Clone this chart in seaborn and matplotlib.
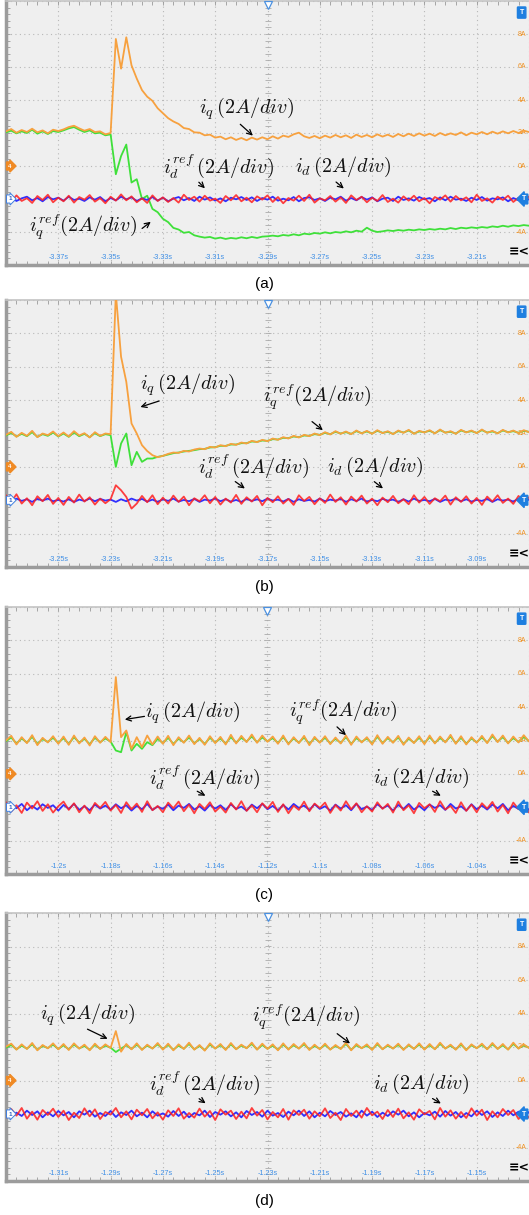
import numpy as np
import matplotlib
matplotlib.use("Agg")
import matplotlib.pyplot as plt
import seaborn as sns
from matplotlib.ticker import AutoMinorLocator

# scope settings: 0.02 s/div, 10 div wide, 2 A/div, 8 div high
DIV = 0.02
centres = [-3.29, -3.17, -1.12, -1.23]
panel_names = ['(a)', '(b)', '(c)', '(d)']

ticks_a = ['-3.37s', '-3.35s', '-3.33s', '-3.31s', '-3.29s', '-3.27s', '-3.25s', '-3.23s', '-3.21s']
ticks_b = ['-3.25s', '-3.23s', '-3.21s', '-3.19s', '-3.17s', '-3.15s', '-3.13s', '-3.11s', '-3.09s']
ticks_c = ['-1.2s', '-1.18s', '-1.16s', '-1.14s', '-1.12s', '-1.1s', '-1.08s', '-1.06s', '-1.04s']
ticks_d = ['-1.31s', '-1.29s', '-1.27s', '-1.25s', '-1.23s', '-1.21s', '-1.19s', '-1.17s', '-1.15s']

amp_values = [8, 6, 4, 2, 0, -4]
amp_labels = ['8A', '6A', '4A', '2A', '0A', '-4A']

# channel 4 (iq, iq_ref) in A, sampled every 0.1 div
iq_a = [2.10, 2.24, 2.02, 2.18, 2.06, 2.26, 2.04, 2.16, 1.98, 2.20, 2.12,
        2.22, 2.36, 2.44, 2.28, 2.14, 2.24, 2.06, 2.10, 1.92, 2.00,
        7.70, 5.90, 7.80, 6.10, 5.30, 4.60, 4.20, 3.95, 3.50, 3.20,
        2.90, 2.70, 2.55, 2.30, 2.24, 2.04, 2.02, 1.86, 1.90, 1.72,
        1.78, 1.62, 1.74, 1.58, 1.70, 1.56, 1.72, 1.60, 1.74, 1.62,
        1.80, 1.66, 1.84, 1.76, 1.92, 2.02, 1.80, 1.70, 1.82, 1.68,
        1.84, 1.72, 1.88, 1.74, 1.86, 1.70, 1.90, 1.76, 1.88, 1.74,
        1.92, 1.78, 1.90, 1.76, 1.94, 1.80, 1.96, 1.82, 1.98, 1.84,
        1.96, 1.82, 2.00, 1.86, 1.98, 1.88, 2.04, 1.86, 2.02, 1.92,
        2.06, 1.92, 2.08, 1.96, 2.10, 1.98, 2.12, 2.00, 2.14, 2.06]
iq_ref_a = [2.04, 2.14, 1.98, 2.10, 2.00, 2.20, 1.96, 2.10, 1.94, 2.12, 2.06,
            2.16, 2.28, 2.36, 2.20, 2.06, 2.16, 1.98, 2.02, 1.86, 1.92,
            -0.50, 0.60, 1.30, -1.00, -0.80, -2.00, -1.80, -2.60, -2.80, -3.20,
            -3.40, -3.75, -3.85, -4.05, -4.00, -4.20, -4.28, -4.34, -4.30, -4.40,
            -4.34, -4.42, -4.36, -4.40, -4.32, -4.38, -4.30, -4.36, -4.28, -4.26,
            -4.22, -4.26, -4.18, -4.22, -4.14, -4.20, -4.10, -4.14, -4.06, -4.10,
            -4.02, -4.08, -4.00, -4.04, -3.96, -4.02, -3.92, -3.98, -3.74, -3.92,
            -4.00, -3.96, -3.90, -3.94, -3.88, -3.92, -3.86, -3.90, -3.84, -3.88,
            -3.82, -3.86, -3.80, -3.84, -3.76, -3.82, -3.74, -3.78, -3.72, -3.76,
            -3.70, -3.74, -3.66, -3.70, -3.62, -3.68, -3.60, -3.64, -3.58, -3.62]
iq_b = [1.92, 2.10, 1.80, 2.04, 1.86, 2.16, 1.78, 2.00, 1.90, 2.12, 1.84,
        2.06, 1.82, 2.14, 1.88, 2.02, 1.76, 2.08, 1.86, 2.00, 1.96,
        10.40, 6.60, 5.10, 2.60, 2.00, 1.30, 0.95, 0.70, 0.58, 0.66,
        0.78, 0.86, 0.84, 0.96, 0.92, 1.04, 1.10, 1.06, 1.20, 1.16,
        1.30, 1.24, 1.38, 1.32, 1.46, 1.40, 1.56, 1.48, 1.62, 1.54,
        1.70, 1.62, 1.78, 1.70, 1.86, 1.76, 1.92, 1.84, 2.00, 1.90,
        2.08, 1.94, 2.14, 1.98, 2.12, 1.96, 2.18, 2.00, 2.16, 1.98,
        2.20, 2.02, 2.14, 1.96, 2.18, 2.04, 2.22, 1.98, 2.16, 2.06,
        2.20, 2.00, 2.24, 2.04, 2.14, 1.98, 2.22, 2.06, 2.18, 2.02,
        2.24, 2.04, 2.16, 2.00, 2.22, 2.06, 2.18, 2.02, 2.20, 2.08]
iq_ref_b = [1.88, 2.04, 1.82, 1.98, 1.84, 2.08, 1.80, 1.96, 1.86, 2.06, 1.82,
            2.00, 1.80, 2.06, 1.84, 1.98, 1.78, 2.02, 1.84, 1.96, 1.90,
            0.00, 1.40, 2.00, 0.10, 0.90, 0.30, 0.50, 0.50, 0.60, 0.66,
            0.74, 0.82, 0.86, 0.92, 0.96, 1.00, 1.06, 1.08, 1.16, 1.18,
            1.26, 1.26, 1.34, 1.34, 1.42, 1.42, 1.52, 1.50, 1.58, 1.56,
            1.66, 1.64, 1.74, 1.72, 1.82, 1.78, 1.88, 1.86, 1.96, 1.92,
            2.04, 1.96, 2.10, 2.00, 2.08, 1.98, 2.14, 2.02, 2.12, 2.00,
            2.16, 2.04, 2.10, 1.98, 2.14, 2.06, 2.18, 2.00, 2.12, 2.08,
            2.16, 2.02, 2.20, 2.06, 2.10, 2.00, 2.18, 2.08, 2.14, 2.04,
            2.20, 2.06, 2.12, 2.02, 2.18, 2.08, 2.14, 2.04, 2.16, 2.10]
iq_c = [2.00, 2.28, 1.76, 2.20, 1.84, 2.32, 1.72, 2.16, 1.88, 2.26, 1.80,
        2.24, 1.74, 2.30, 1.82, 2.18, 1.70, 2.26, 1.86, 2.22, 1.90,
        5.80, 2.20, 2.60, 1.50, 2.20, 1.60, 2.30, 1.76, 2.24, 1.80,
        2.28, 1.72, 2.20, 1.86, 2.30, 1.78, 2.16, 1.74, 2.26, 1.84,
        2.22, 1.76, 2.34, 1.82, 2.28, 1.90, 2.36, 1.86, 2.30, 1.92,
        2.24, 1.80, 2.30, 1.76, 2.20, 1.84, 2.28, 1.72, 2.22, 1.86,
        2.26, 1.78, 2.18, 1.82, 2.30, 1.74, 2.24, 1.88, 2.20, 1.76,
        2.32, 1.80, 2.22, 1.86, 2.28, 1.74, 2.18, 1.84, 2.26, 1.78,
        2.30, 1.82, 2.24, 1.88, 2.34, 1.80, 2.26, 1.76, 2.20, 1.86,
        2.28, 1.84, 2.36, 1.90, 2.30, 1.82, 2.24, 1.88, 2.32, 1.94]
iq_ref_c = [1.96, 2.18, 1.82, 2.12, 1.88, 2.22, 1.80, 2.08, 1.92, 2.16, 1.86,
            2.14, 1.80, 2.20, 1.88, 2.10, 1.78, 2.16, 1.90, 2.12, 1.94,
            1.40, 1.30, 2.50, 1.40, 1.80, 1.50, 1.90, 1.72, 2.10, 1.84,
            2.16, 1.80, 2.10, 1.90, 2.18, 1.84, 2.08, 1.80, 2.16, 1.88,
            2.12, 1.82, 2.20, 1.88, 2.16, 1.94, 2.24, 1.90, 2.18, 1.96,
            2.14, 1.86, 2.20, 1.82, 2.12, 1.88, 2.18, 1.80, 2.14, 1.90,
            2.16, 1.84, 2.10, 1.86, 2.20, 1.80, 2.14, 1.92, 2.12, 1.82,
            2.22, 1.86, 2.14, 1.90, 2.18, 1.80, 2.10, 1.88, 2.16, 1.84,
            2.20, 1.86, 2.14, 1.92, 2.24, 1.84, 2.16, 1.82, 2.12, 1.90,
            2.18, 1.88, 2.26, 1.94, 2.20, 1.86, 2.14, 1.92, 2.22, 1.96]
iq_d = [2.02, 2.20, 1.84, 2.16, 1.88, 2.24, 1.80, 2.12, 1.92, 2.22, 1.86,
        2.18, 1.82, 2.22, 1.90, 2.14, 1.80, 2.20, 1.88, 2.16, 1.94,
        2.95, 1.72, 2.18, 1.86, 2.22, 1.82, 2.14, 1.90, 2.24, 1.84,
        2.20, 1.80, 2.16, 1.88, 2.26, 1.84, 2.12, 1.78, 2.22, 1.90,
        2.18, 1.82, 2.24, 1.86, 2.14, 1.92, 2.26, 1.84, 2.20, 1.88,
        2.16, 1.80, 2.22, 1.84, 2.18, 1.90, 2.24, 1.82, 2.14, 1.86,
        2.20, 1.84, 2.12, 1.88, 2.26, 1.80, 2.18, 1.92, 2.16, 1.82,
        2.24, 1.86, 2.14, 1.90, 2.20, 1.82, 2.16, 1.88, 2.22, 1.84,
        2.18, 1.86, 2.26, 1.90, 2.14, 1.84, 2.22, 1.80, 2.16, 1.92,
        2.20, 1.86, 2.24, 1.88, 2.18, 1.84, 2.26, 1.90, 2.16, 1.94]
iq_ref_d = [1.96, 2.12, 1.86, 2.08, 1.90, 2.16, 1.84, 2.06, 1.94, 2.14, 1.88,
            2.10, 1.86, 2.14, 1.92, 2.06, 1.84, 2.12, 1.90, 2.08, 1.96,
            1.70, 1.90, 2.10, 1.88, 2.14, 1.86, 2.08, 1.92, 2.16, 1.88,
            2.12, 1.84, 2.08, 1.90, 2.18, 1.86, 2.06, 1.82, 2.14, 1.92,
            2.10, 1.86, 2.16, 1.88, 2.08, 1.94, 2.18, 1.86, 2.12, 1.90,
            2.08, 1.84, 2.14, 1.88, 2.10, 1.92, 2.16, 1.86, 2.06, 1.90,
            2.12, 1.86, 2.06, 1.90, 2.18, 1.84, 2.10, 1.94, 2.08, 1.86,
            2.16, 1.88, 2.08, 1.92, 2.12, 1.86, 2.10, 1.90, 2.14, 1.88,
            2.10, 1.88, 2.18, 1.92, 2.08, 1.86, 2.14, 1.84, 2.10, 1.94,
            2.12, 1.88, 2.16, 1.90, 2.10, 1.86, 2.18, 1.92, 2.10, 1.96]

# channel 1 (id, id_ref) in A around its own ground marker
id_a = [0.10, -0.18, 0.22, -0.12, 0.05, -0.24, 0.18, -0.06, 0.26, -0.20, 0.08,
        -0.14, 0.20, -0.22, 0.12, -0.04, 0.24, -0.16, 0.06, -0.26, 0.14,
        -0.10, 0.28, -0.08, 0.16, -0.20, 0.04, -0.24, 0.22, -0.12, 0.10,
        -0.18, 0.06, -0.22, 0.26, -0.06, 0.14, -0.16, 0.20, -0.10, 0.02,
        -0.24, 0.18, -0.08, 0.24, -0.14, 0.08, -0.20, 0.16, -0.04, 0.22,
        -0.18, 0.12, -0.26, 0.06, -0.10, 0.20, -0.12, 0.26, -0.22, 0.04,
        -0.08, 0.18, -0.16, 0.10, -0.24, 0.22, -0.06, 0.14, -0.20, 0.08,
        -0.12, 0.24, -0.18, 0.02, -0.22, 0.16, -0.10, 0.20, -0.14, 0.06,
        -0.26, 0.12, -0.04, 0.22, -0.16, 0.18, -0.08, 0.10, -0.20, 0.26,
        -0.12, 0.04, -0.22, 0.14, -0.06, 0.20, -0.18, 0.08, -0.24, 0.16]
id_ref_a = [-0.06, 0.10, -0.12, 0.04, 0.14, -0.08, 0.06, -0.14, 0.12, -0.02, 0.08,
            -0.10, 0.14, -0.06, 0.02, -0.12, 0.10, -0.04, 0.12, -0.14, 0.06,
            -0.08, 0.14, -0.02, 0.10, -0.12, 0.04, -0.06, 0.12, -0.10, 0.08,
            -0.14, 0.02, 0.12, -0.08, 0.06, -0.12, 0.14, -0.04, 0.10, -0.10,
            0.04, -0.14, 0.08, -0.02, 0.12, -0.06, 0.10, -0.12, 0.06, -0.04,
            0.14, -0.10, 0.02, -0.08, 0.12, -0.14, 0.06, 0.10, -0.06, 0.04,
            -0.12, 0.08, -0.02, 0.14, -0.10, 0.06, -0.08, 0.12, -0.04, 0.10,
            -0.14, 0.02, 0.08, -0.12, 0.14, -0.06, 0.04, -0.10, 0.12, -0.02,
            0.06, -0.14, 0.10, -0.08, 0.14, -0.04, 0.02, -0.12, 0.08, -0.06,
            0.12, -0.10, 0.04, -0.02, 0.10, -0.14, 0.06, -0.08, 0.12, -0.04]
id_b = [0.30, -0.10, 0.36, -0.20, 0.12, -0.30, 0.24, -0.06, 0.32, -0.22, 0.14,
        -0.28, 0.20, -0.14, 0.34, -0.08, 0.18, -0.26, 0.10, -0.18, 0.06,
        0.90, 0.60, 0.20, -0.50, -0.20, 0.26, -0.12, 0.30, -0.24, 0.16,
        -0.20, 0.28, -0.10, 0.22, -0.30, 0.12, -0.06, 0.30, -0.18, 0.20,
        -0.26, 0.10, -0.14, 0.32, -0.22, 0.18, -0.08, 0.26, -0.30, 0.14,
        -0.12, 0.24, -0.20, 0.08, -0.28, 0.30, -0.04, 0.20, -0.24, 0.12,
        -0.16, 0.34, -0.10, 0.18, -0.26, 0.22, -0.08, 0.28, -0.20, 0.10,
        -0.30, 0.16, -0.12, 0.26, -0.18, 0.06, -0.24, 0.30, -0.14, 0.20,
        -0.22, 0.12, -0.06, 0.28, -0.26, 0.18, -0.10, 0.24, -0.20, 0.14,
        -0.28, 0.22, -0.08, 0.30, -0.16, 0.10, -0.22, 0.26, -0.12, 0.18]
id_ref_b = [0.04, -0.08, 0.10, -0.04, 0.06, -0.10, 0.08, -0.02, 0.10, -0.06, 0.02,
            -0.08, 0.06, -0.10, 0.04, -0.04, 0.10, -0.06, 0.08, -0.02, 0.04,
            -0.10, 0.06, -0.06, 0.10, -0.02, 0.08, -0.08, 0.04, -0.10, 0.06,
            -0.04, 0.10, -0.08, 0.02, -0.06, 0.08, -0.10, 0.04, -0.02, 0.10,
            -0.06, 0.06, -0.08, 0.02, -0.10, 0.08, -0.04, 0.06, -0.06, 0.10,
            -0.02, 0.04, -0.08, 0.08, -0.10, 0.06, -0.04, 0.02, -0.08, 0.10,
            -0.06, 0.04, -0.02, 0.08, -0.10, 0.06, -0.04, 0.10, -0.08, 0.02,
            -0.06, 0.08, -0.02, 0.04, -0.10, 0.06, -0.08, 0.10, -0.04, 0.02,
            -0.06, 0.08, -0.10, 0.04, -0.02, 0.10, -0.06, 0.06, -0.08, 0.02,
            -0.04, 0.08, -0.10, 0.06, -0.02, 0.04, -0.08, 0.10, -0.06, 0.04]
id_c = [0.30, -0.26, 0.12, -0.34, 0.28, -0.08, 0.36, -0.22, 0.18, -0.32, 0.06,
        0.34, -0.16, 0.24, -0.30, 0.10, -0.36, 0.26, -0.04, 0.32, -0.20,
        0.14, -0.34, 0.30, -0.12, 0.22, -0.28, 0.36, -0.18, 0.08, -0.30,
        0.28, -0.06, 0.34, -0.24, 0.16, -0.36, 0.20, -0.10, 0.30, -0.26,
        0.04, -0.32, 0.26, -0.14, 0.36, -0.22, 0.12, -0.30, 0.24, -0.08,
        0.32, -0.28, 0.18, -0.36, 0.10, -0.16, 0.34, -0.24, 0.22, -0.04,
        0.28, -0.34, 0.14, -0.20, 0.36, -0.12, 0.24, -0.30, 0.06, -0.26,
        0.30, -0.10, 0.20, -0.32, 0.34, -0.18, 0.12, -0.36, 0.26, -0.06,
        0.18, -0.28, 0.36, -0.14, 0.08, -0.34, 0.30, -0.22, 0.16, -0.30,
        0.24, -0.08, 0.32, -0.26, 0.14, -0.36, 0.28, -0.12, 0.20, -0.32]
id_ref_c = [-0.12, 0.16, -0.06, 0.20, -0.18, 0.08, -0.14, 0.18, -0.04, 0.12, -0.20,
            0.14, -0.10, 0.20, -0.16, 0.06, -0.18, 0.16, -0.08, 0.10, -0.14,
            0.18, -0.06, 0.12, -0.20, 0.08, -0.12, 0.20, -0.16, 0.04, -0.10,
            0.16, -0.18, 0.10, -0.04, 0.20, -0.14, 0.06, -0.20, 0.14, -0.08,
            0.12, -0.16, 0.18, -0.10, 0.04, -0.20, 0.16, -0.06, 0.20, -0.12,
            0.08, -0.18, 0.14, -0.14, 0.20, -0.04, 0.10, -0.16, 0.18, -0.10,
            0.06, -0.20, 0.16, -0.08, 0.12, -0.18, 0.20, -0.12, 0.04, -0.16,
            0.18, -0.06, 0.10, -0.20, 0.14, -0.10, 0.20, -0.14, 0.08, -0.18,
            0.16, -0.04, 0.12, -0.16, 0.20, -0.08, 0.06, -0.20, 0.18, -0.12,
            0.10, -0.14, 0.16, -0.06, 0.20, -0.18, 0.08, -0.10, 0.14, -0.16]
id_d = [-0.22, 0.30, -0.10, 0.36, -0.28, 0.14, -0.34, 0.24, -0.06, 0.32, -0.18,
        0.20, -0.36, 0.08, -0.24, 0.34, -0.14, 0.28, -0.30, 0.12, -0.04,
        0.36, -0.20, 0.16, -0.32, 0.26, -0.08, 0.30, -0.26, 0.10, -0.34,
        0.22, -0.12, 0.34, -0.28, 0.06, -0.22, 0.32, -0.16, 0.18, -0.36,
        0.28, -0.04, 0.20, -0.30, 0.14, -0.26, 0.36, -0.10, 0.24, -0.32,
        0.12, -0.20, 0.30, -0.34, 0.22, -0.06, 0.26, -0.28, 0.16, -0.14,
        0.34, -0.24, 0.08, -0.36, 0.30, -0.12, 0.20, -0.22, 0.36, -0.08,
        0.14, -0.30, 0.24, -0.18, 0.32, -0.26, 0.10, -0.34, 0.28, -0.02,
        0.18, -0.32, 0.36, -0.16, 0.22, -0.28, 0.12, -0.24, 0.34, -0.10,
        0.26, -0.36, 0.16, -0.20, 0.30, -0.06, 0.24, -0.30, 0.10, -0.22]
id_ref_d = [0.14, -0.18, 0.08, -0.12, 0.20, -0.06, 0.16, -0.20, 0.10, -0.14, 0.18,
            -0.08, 0.12, -0.20, 0.16, -0.04, 0.20, -0.16, 0.06, -0.12, 0.18,
            -0.18, 0.10, -0.06, 0.20, -0.14, 0.08, -0.20, 0.16, -0.10, 0.04,
            -0.16, 0.18, -0.12, 0.14, -0.20, 0.06, -0.08, 0.20, -0.18, 0.12,
            -0.04, 0.16, -0.14, 0.10, -0.20, 0.18, -0.06, 0.12, -0.16, 0.20,
            -0.10, 0.06, -0.18, 0.14, -0.08, 0.20, -0.12, 0.16, -0.20, 0.08,
            -0.14, 0.18, -0.06, 0.12, -0.16, 0.04, -0.20, 0.20, -0.10, 0.14,
            -0.18, 0.08, -0.12, 0.16, -0.04, 0.20, -0.14, 0.10, -0.20, 0.06,
            -0.08, 0.14, -0.16, 0.18, -0.10, 0.12, -0.20, 0.06, -0.14, 0.20,
            -0.06, 0.16, -0.18, 0.10, -0.12, 0.20, -0.08, 0.14, -0.16, 0.12]

CH1_ZERO = -2.0   # channel 1 ground sits one division below channel 4 ground

IQ = r'$i_q\,(2A/div)$'
IQREF = r'$i_q^{ref}(2A/div)$'
IDREF = r'$i_d^{ref}\,(2A/div)$'
ID = r'$i_d\,(2A/div)$'

# (label, text centre, arrow tail, arrow head) in axes fractions
notes_a = [(IQ, (0.461, 0.592), (0.444, 0.540), (0.476, 0.483)),
           (IDREF, (0.407, 0.370), (0.365, 0.321), (0.384, 0.283)),
           (ID, (0.644, 0.370), (0.627, 0.321), (0.650, 0.283)),
           (IQREF, (0.147, 0.143), (0.256, 0.132), (0.281, 0.170))]
notes_b = [(IQ, (0.348, 0.682), (0.298, 0.625), (0.252, 0.596)),
           (IQREF, (0.595, 0.637), (0.581, 0.551), (0.610, 0.506)),
           (IDREF, (0.474, 0.375), (0.434, 0.326), (0.461, 0.288)),
           (ID, (0.706, 0.375), (0.700, 0.326), (0.725, 0.288))]
notes_c = [(IQ, (0.358, 0.603), (0.270, 0.592), (0.222, 0.577)),
           (IQREF, (0.644, 0.607), (0.629, 0.558), (0.654, 0.513)),
           (IDREF, (0.379, 0.360), (0.361, 0.315), (0.386, 0.288)),
           (ID, (0.795, 0.360), (0.811, 0.315), (0.836, 0.288))]
notes_d = [(IQ, (0.157, 0.619), (0.151, 0.571), (0.199, 0.526)),
           (IQREF, (0.574, 0.612), (0.629, 0.556), (0.662, 0.507)),
           (IDREF, (0.379, 0.362), (0.365, 0.313), (0.386, 0.284)),
           (ID, (0.795, 0.362), (0.811, 0.313), (0.836, 0.284))]

ORANGE = '#f7a13f'
GREEN = '#3fe03a'
RED = '#ff1f1f'
BLUE = '#2f2fff'
TICK_BLUE = '#3f8fe6'
GRID = '#b8b8b8'


def draw_panel(ax, centre, ticks, iq, iq_ref, i_d, i_d_ref, notes):
    left, right = centre - 5 * DIV, centre + 5 * DIV
    ax.set_facecolor('#efefef')
    ax.set_xlim(left, right)
    ax.set_ylim(-6, 10)

    ax.set_xticks(centre + DIV * np.arange(-5, 6))
    ax.set_yticks(np.arange(-6, 11, 2))
    ax.xaxis.set_minor_locator(AutoMinorLocator(5))
    ax.yaxis.set_minor_locator(AutoMinorLocator(5))
    ax.tick_params(which='both', direction='in', length=3, width=0.6, color='#999999',
                   top=True, bottom=True, left=True, right=False,
                   labelbottom=False, labelleft=False)
    ax.grid(True, which='major', color=GRID, linestyle=(0, (1, 3)), linewidth=0.8)
    for side in ['left', 'bottom']:
        ax.spines[side].set_color('#9c9c9c')
        ax.spines[side].set_linewidth(2.5)
    ax.spines['top'].set_color('#c4c4c4')
    ax.spines['top'].set_linewidth(1.2)
    ax.spines['right'].set_visible(False)

    # tick marks along the vertical centre line
    ys = np.arange(-6, 10.01, 0.4)
    ax.plot(np.full(len(ys), centre), ys, ls='', marker='_', ms=4, mew=0.6,
            color='#aaaaaa', zorder=1)

    # amplitude labels on the right
    for v, lab in zip(amp_values, amp_labels):
        ax.text(0.995, v, lab, transform=ax.get_yaxis_transform(), ha='right', va='center',
                fontsize=5, color='#f0901e', zorder=1)
    # time labels
    for k, lab in enumerate(ticks, start=1):
        ax.text(left + k * DIV, -5.55, lab, ha='center', va='center', fontsize=5.2,
                color=TICK_BLUE, zorder=1)

    # traces
    t = np.linspace(left, right, len(iq))
    sns.lineplot(x=t, y=iq_ref, ax=ax, color=GREEN, lw=1.3, estimator=None, sort=False, zorder=3)
    sns.lineplot(x=t, y=iq, ax=ax, color=ORANGE, lw=1.3, estimator=None, sort=False, zorder=4)
    t1 = np.linspace(left, right, len(i_d))
    sns.lineplot(x=t1, y=np.array(i_d_ref) + CH1_ZERO, ax=ax, color=BLUE, lw=1.3,
                 estimator=None, sort=False, zorder=3)
    sns.lineplot(x=t1, y=np.array(i_d) + CH1_ZERO, ax=ax, color=RED, lw=1.3, alpha=0.85,
                 estimator=None, sort=False, zorder=4)
    ax.set_xlabel('')
    ax.set_ylabel('')

    # channel / trigger markers
    yt = ax.get_yaxis_transform()
    ax.text(0.004, 0, '4', transform=yt, ha='left', va='center', fontsize=4.5, color='white',
            fontweight='bold', zorder=6,
            bbox=dict(boxstyle='rarrow,pad=0.25', fc='#f08a24', ec='#f08a24'))
    ax.text(0.004, CH1_ZERO, '1', transform=yt, ha='left', va='center', fontsize=4.5,
            color='#2a5fc0', fontweight='bold', zorder=6,
            bbox=dict(boxstyle='rarrow,pad=0.25', fc='white', ec='#3f7fe0', lw=0.7))
    ax.text(0.99, 9.3, 'T', transform=yt, ha='right', va='center', fontsize=5, color='white',
            fontweight='bold', zorder=6,
            bbox=dict(boxstyle='round,pad=0.3,rounding_size=0.1', fc='#1e7fe0', ec='#1e7fe0'))
    ax.text(0.995, CH1_ZERO, 'T', transform=yt, ha='right', va='center', fontsize=5,
            color='white', fontweight='bold', zorder=6,
            bbox=dict(boxstyle='larrow,pad=0.2', fc='#1e7fe0', ec='#1e7fe0'))
    ax.plot([centre], [9.75], marker='v', ms=6, mfc='white', mec='#4a90e0', mew=0.9,
            clip_on=False, zorder=6)
    ax.text(0.981, 0.049, '≡<', transform=ax.transAxes, ha='center', va='center',
            fontsize=9, color='black', fontweight='bold', family='DejaVu Sans', zorder=6)

    # annotations
    for label, pos, tail, head in notes:
        ax.text(pos[0], pos[1], label, transform=ax.transAxes, ha='center', va='center',
                fontsize=14.5, color='#111111', zorder=7)
        ax.annotate('', xy=head, xytext=tail, xycoords='axes fraction',
                    textcoords='axes fraction', zorder=7,
                    arrowprops=dict(arrowstyle='->', color='black', lw=0.9, mutation_scale=9))


sns.set_theme(style='white')
plt.rcParams['mathtext.fontset'] = 'cm'
plt.rcParams['font.family'] = ['Liberation Sans', 'DejaVu Sans']

W, H = 529, 1215
fig = plt.figure(figsize=(W / 100, H / 100), dpi=100)
fig.patch.set_facecolor('white')

panel_px = [(1, 265), (300, 567), (607, 874), (913, 1181)]
label_px = [284, 587, 895, 1201]
all_ticks = [ticks_a, ticks_b, ticks_c, ticks_d]
all_iq = [iq_a, iq_b, iq_c, iq_d]
all_iq_ref = [iq_ref_a, iq_ref_b, iq_ref_c, iq_ref_d]
all_id = [id_a, id_b, id_c, id_d]
all_id_ref = [id_ref_a, id_ref_b, id_ref_c, id_ref_d]
all_notes = [notes_a, notes_b, notes_c, notes_d]

for i in range(4):
    top, bottom = panel_px[i]
    ax = fig.add_axes([6 / W, 1 - bottom / H, 523 / W, (bottom - top) / H])
    draw_panel(ax, centres[i], all_ticks[i], all_iq[i], all_iq_ref[i],
               all_id[i], all_id_ref[i], all_notes[i])
    fig.text(0.5, 1 - label_px[i] / H, panel_names[i], ha='center', va='center',
             fontsize=11, color='black')

fig.savefig('out.png', dpi=100)
